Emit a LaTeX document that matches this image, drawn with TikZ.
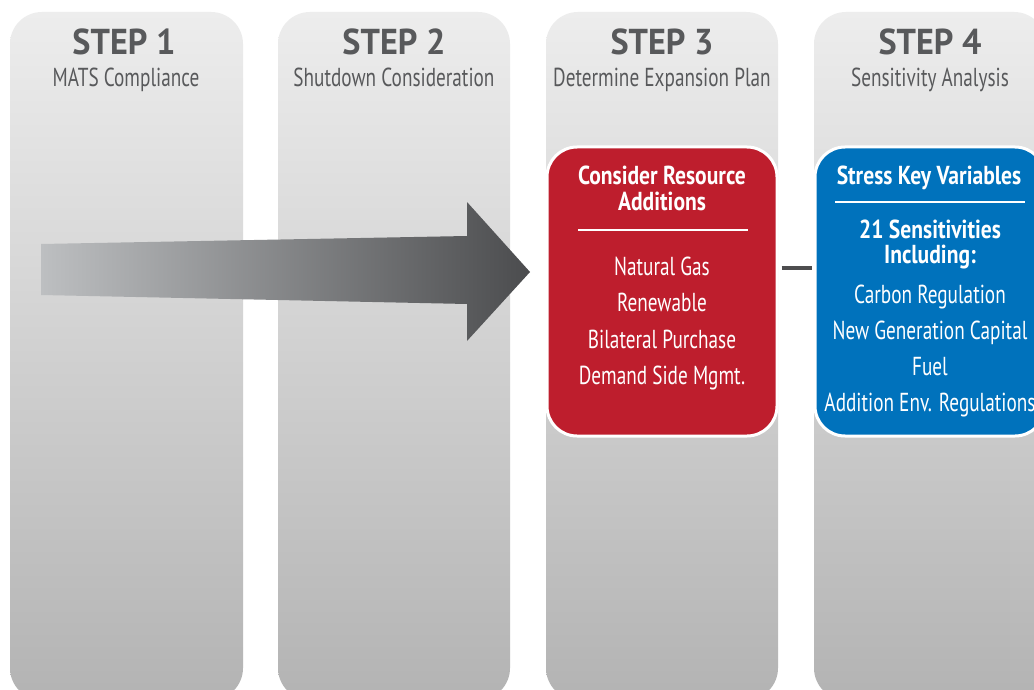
\documentclass[tikz,border=0pt]{standalone}
\usepackage{fontspec}
\newfontfamily\condR[FakeStretch=0.74]{PT Sans}
\newfontfamily\condB[FakeStretch=0.83]{PT Sans}
\newfontfamily\condT[FakeStretch=0.95]{PT Sans}
\definecolor{txtgray}{HTML}{58595B}
\definecolor{colTop}{HTML}{EDEDED}
\definecolor{colBot}{HTML}{B3B3B3}
\definecolor{redbox}{HTML}{BE1E2D}
\definecolor{bluebox}{HTML}{0072BC}
\definecolor{arrL}{HTML}{BDBFC1}
\definecolor{arrR}{HTML}{4B4C4E}
\definecolor{dashc}{HTML}{4D4D4F}
\tikzset{
  column/.style={top color=colTop, bottom color=colBot, rounded corners=32pt},
  txt/.style={inner sep=0pt, anchor=base},
  steptitle/.style={txt, font=\condT\bfseries\fontsize{36}{40}\selectfont, text=txtgray},
  stepsub/.style={txt, font=\condR\fontsize{26}{28}\selectfont, text=txtgray},
  panel/.style={draw=white, line width=3pt, rounded corners=30pt, inner sep=0pt},
  headtxt/.style={txt, font=\condB\bfseries\fontsize{26}{28}\selectfont, text=white},
  itemtxt/.style={txt, font=\condR\fontsize{26}{28}\selectfont, text=white},
  conn/.style={draw=dashc, line width=3.5pt},
}
\begin{document}
\begin{tikzpicture}[x=1pt,y=-1pt]
\useasboundingbox (0,0) rectangle (1034,690);
\clip (0,0) rectangle (1034,690);
\fill[white] (0,0) rectangle (1034,690);
% columns
\shade[column] (10,12) rectangle (243,700);
\shade[column] (278,12) rectangle (510,700);
\shade[column] (546,12) rectangle (778,700);
\shade[column] (814,12) rectangle (1046,700);
% titles
\node[steptitle] (s1) at (124,55) {STEP 1};
\node[stepsub] (t1) at (126,87) {MATS Compliance};
\node[steptitle] (s2) at (394,55) {STEP 2};
\node[stepsub] (t2) at (394,87) {Shutdown Consideration};
\node[steptitle] (s3) at (662,55) {STEP 3};
\node[stepsub] (t3) at (662,87) {Determine Expansion Plan};
\node[steptitle] (s4) at (930,55) {STEP 4};
\node[stepsub] (t4) at (930,87) {Sensitivity Analysis};
% big arrow
\shade[left color=arrL, right color=arrR]
  (41,244) -- (467,236) -- (467,202) -- (530,272) -- (467,341) -- (467,304) -- (41,295) -- cycle;
% red panel
\node[panel, fill=redbox, minimum width=230pt, minimum height=289pt] (red) at (662,291.5) {};
\node[headtxt] (rh1) at (662,185) {Consider Resource};
\node[headtxt] (rh2) at (662,211) {Additions};
\draw[white, line width=1.5pt] (578,230) -- (748,230);
\node[itemtxt] (r1) at (662,275) {Natural Gas};
\node[itemtxt] (r2) at (662,311) {Renewable};
\node[itemtxt] (r3) at (662,348) {Bilateral Purchase};
\node[itemtxt] (r4) at (662,384) {Demand Side Mgmt.};
% blue panel
\node[panel, fill=bluebox, minimum width=230pt, minimum height=289pt] (blue) at (930,291.5) {};
\node[headtxt] (bh1) at (929,185) {Stress Key Variables};
\draw[white, line width=1.5pt] (835,202) -- (1025,202);
\node[headtxt] (bh2) at (930,238) {21 Sensitivities};
\node[headtxt] (bh3) at (930,263) {Including:};
\node[itemtxt] (b1) at (930,303) {Carbon Regulation};
\node[itemtxt] (b2) at (930,339) {New Generation Capital};
\node[itemtxt] (b3) at (930,375) {Fuel};
\node[itemtxt] (b4) at (930,411) {Addition Env. Regulations};
% connector
\draw[conn] ([xshift=3pt,yshift=23.5pt]red.east) -- ([xshift=-2pt,yshift=23.5pt]blue.west);
\end{tikzpicture}
\end{document}
